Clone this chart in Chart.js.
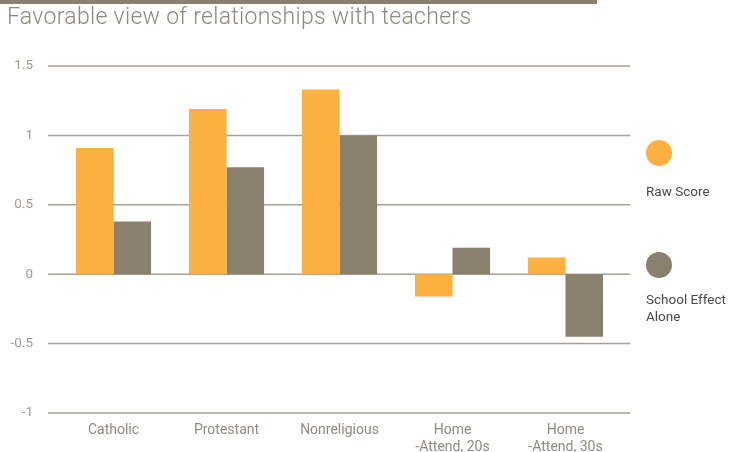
<!DOCTYPE html>
<html>
<head>
<meta charset="utf-8">
<script src="https://cdn.jsdelivr.net/npm/chart.js@4"></script>
<style>
  html, body { margin: 0; padding: 0; background: #fff; }
  body { width: 741px; height: 452px; position: relative; overflow: hidden; font-family: "Roboto", "DejaVu Sans", sans-serif; }
  #topbar { position: absolute; left: 0; top: 0; width: 597px; height: 4px; background: #8a806e; }
  #title { position: absolute; left: 7px; top: 3px; font-size: 23px; font-weight: 300; color: #8e887f; letter-spacing: 0.3px; white-space: nowrap; }
  #wrap { position: absolute; left: 0; top: 0; width: 741px; height: 452px; }
  .dot { position: absolute; width: 26px; height: 26px; border-radius: 50%; }
  .ltext { position: absolute; font-size: 13.5px; color: #4a4a4a; line-height: 17px; white-space: nowrap; }
</style>
</head>
<body>
<div id="wrap"><canvas id="c" width="741" height="452"></canvas></div>
<div id="topbar"></div>
<div id="title">Favorable view of relationships with teachers</div>
<div class="dot" style="left:646px; top:140px; background:#fbb040;"></div>
<div class="ltext" style="left:646px; top:183px;">Raw Score</div>
<div class="dot" style="left:646px; top:252px; background:#8a806e;"></div>
<div class="ltext" style="left:646px; top:291px;">School Effect<br>Alone</div>
<script>
const categories = ["Catholic", "Protestant", "Nonreligious", ["Home", "-Attend, 20s"], ["Home", "-Attend, 30s"]];
const seriesNames = ["Raw Score", "School Effect Alone"];
const rawScore = [0.91, 1.19, 1.33, -0.16, 0.12];
const schoolEffect = [0.38, 0.77, 1.0, 0.19, -0.45];
const yTickLabels = ["-1", "-0.5", "0", "0.5", "1", "1.5"];

const gridPlugin = {
  id: 'extGrid',
  beforeDatasetsDraw(chart) {
    const ctx = chart.ctx, y = chart.scales.y, area = chart.chartArea;
    ctx.save();
    ctx.strokeStyle = '#a8a195';
    ctx.lineWidth = 1.5;
    y.ticks.forEach(t => {
      const py = y.getPixelForValue(t.value);
      ctx.beginPath();
      ctx.moveTo(area.left - 9, py);
      ctx.lineTo(area.right + 8, py);
      ctx.stroke();
    });
    ctx.restore();
  }
};

new Chart(document.getElementById('c'), {
  type: 'bar',
  data: {
    labels: categories,
    datasets: [
      { label: seriesNames[0], data: rawScore, backgroundColor: '#fbb040', borderWidth: 0 },
      { label: seriesNames[1], data: schoolEffect, backgroundColor: '#8a806e', borderWidth: 0 }
    ]
  },
  options: {
    responsive: false,
    animation: false,
    devicePixelRatio: 1,
    layout: { padding: { top: 66, right: 119, bottom: 0, left: 0 } },
    plugins: { legend: { display: false }, tooltip: { enabled: false } },
    datasets: { bar: { categoryPercentage: 0.665, barPercentage: 1.0 } },
    scales: {
      x: {
        grid: { display: false, drawTicks: false },
        border: { display: false },
        ticks: { color: '#8f8a82', font: { family: 'Roboto', size: 14 }, padding: 9, maxRotation: 0, autoSkip: false },
        afterFit(scale) { scale.height = 39; }
      },
      y: {
        min: -1, max: 1.5,
        grid: { display: false, drawTicks: false },
        border: { display: false },
        ticks: {
          stepSize: 0.5,
          color: '#a09a92',
          font: { family: 'Roboto', size: 13.5 },
          padding: 24,
          callback: function(v) {
            const i = Math.round((v + 1) / 0.5);
            return yTickLabels[i];
          }
        },
        afterFit(scale) { scale.width = 57; }
      }
    }
  },
  plugins: [gridPlugin]
});
</script>
</body>
</html>
